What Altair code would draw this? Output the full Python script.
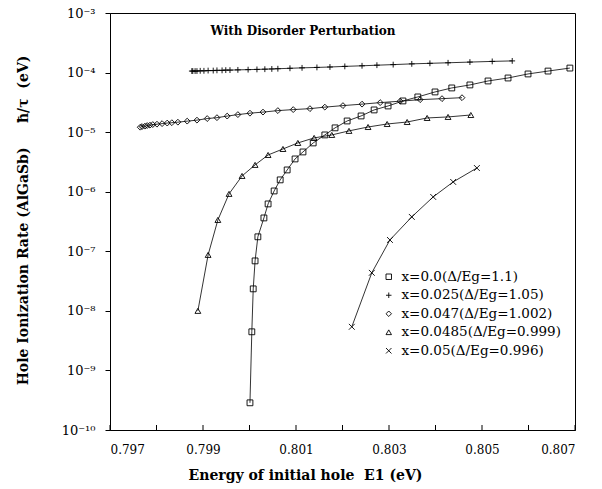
import altair as alt
import pandas as pd

# ---------------- data ----------------
series_names = [
    "x=0.0(Δ/Eg=1.1)",
    "x=0.025(Δ/Eg=1.05)",
    "x=0.047(Δ/Eg=1.002)",
    "x=0.0485(Δ/Eg=0.999)",
    "x=0.05(Δ/Eg=0.996)",
]

sq_E = [0.80001, 0.80005, 0.80008, 0.80012, 0.80018, 0.80031, 0.80040, 0.80053,
        0.80066, 0.80081, 0.80098, 0.80115, 0.80137, 0.80162, 0.80184, 0.80210,
        0.80240, 0.80268, 0.80298, 0.80330, 0.80362, 0.80399, 0.80435, 0.80474,
        0.80513, 0.80556, 0.80599, 0.80642, 0.80689]
sq_R = [2.86e-10, 4.45e-9, 2.34e-8, 6.9e-8, 1.75e-7, 3.63e-7, 6.24e-7, 1.03e-6,
        1.58e-6, 2.32e-6, 3.55e-6, 4.65e-6, 6.59e-6, 8.98e-6, 1.18e-5, 1.54e-5,
        1.87e-5, 2.36e-5, 2.75e-5, 3.34e-5, 3.90e-5, 4.73e-5, 5.52e-5, 6.20e-5,
        7.23e-5, 8.11e-5, 9.48e-5, 1.06e-4, 1.19e-4]

pl_E = [0.79876, 0.79878, 0.79883, 0.79887, 0.79894, 0.79902, 0.79911, 0.79922,
        0.79930, 0.79941, 0.79949, 0.79958, 0.79975, 0.79997, 0.80016, 0.80033,
        0.80048, 0.80061, 0.80087, 0.80113, 0.80145, 0.80173, 0.80205, 0.80242,
        0.80274, 0.80309, 0.80349, 0.80388, 0.80427, 0.80474, 0.80522, 0.80565]
pl_R = [1.06e-4, 1.06e-4, 1.06e-4, 1.06e-4, 1.07e-4, 1.07e-4, 1.08e-4, 1.08e-4,
        1.09e-4, 1.09e-4, 1.10e-4, 1.10e-4, 1.11e-4, 1.12e-4, 1.13e-4, 1.14e-4,
        1.15e-4, 1.16e-4, 1.18e-4, 1.20e-4, 1.22e-4, 1.24e-4, 1.27e-4, 1.30e-4,
        1.33e-4, 1.36e-4, 1.40e-4, 1.43e-4, 1.46e-4, 1.50e-4, 1.54e-4, 1.57e-4]

di_E = [0.79765, 0.79769, 0.79775, 0.79780, 0.79786, 0.79792, 0.79801, 0.79812,
        0.79823, 0.79833, 0.79846, 0.79866, 0.79887, 0.79909, 0.79930, 0.79952,
        0.79975, 0.80001, 0.80029, 0.80061, 0.80094, 0.80130, 0.80162, 0.80201,
        0.80242, 0.80281, 0.80324, 0.80367, 0.80414, 0.80457]
di_R = [1.21e-5, 1.24e-5, 1.26e-5, 1.29e-5, 1.31e-5, 1.34e-5, 1.36e-5, 1.39e-5,
        1.42e-5, 1.44e-5, 1.47e-5, 1.53e-5, 1.59e-5, 1.69e-5, 1.75e-5, 1.86e-5,
        1.97e-5, 2.08e-5, 2.17e-5, 2.30e-5, 2.39e-5, 2.48e-5, 2.63e-5, 2.79e-5,
        2.95e-5, 3.13e-5, 3.31e-5, 3.51e-5, 3.65e-5, 3.79e-5]

tr_E = [0.79889, 0.79911, 0.79932, 0.79956, 0.79984, 0.80012, 0.80040, 0.80072,
        0.80104, 0.80139, 0.80177, 0.80214, 0.80255, 0.80296, 0.80339, 0.80382,
        0.80427, 0.80476]
tr_R = [1.0e-8, 8.7e-8, 3.36e-7, 9.2e-7, 1.84e-6, 2.82e-6, 4.14e-6, 5.22e-6,
        6.59e-6, 8.0e-6, 8.98e-6, 1.05e-5, 1.22e-5, 1.37e-5, 1.48e-5, 1.73e-5,
        1.80e-5, 1.94e-5]

cr_E = [0.80220, 0.80263, 0.80302, 0.80349, 0.80395, 0.80438, 0.80489]
cr_R = [5.4e-9, 4.35e-8, 1.55e-7, 3.78e-7, 8.18e-7, 1.46e-6, 2.5e-6]

x_label_values = [0.797, 0.799, 0.801, 0.803, 0.805, 0.807]
x_tick_values = [0.797, 0.798, 0.799, 0.800, 0.801, 0.802, 0.803, 0.804,
                 0.805, 0.806, 0.807]
y_tick_values = [1e-10, 1e-9, 1e-8, 1e-7, 1e-6, 1e-5, 1e-4, 1e-3]

# ---------------- table ----------------
rows = []
for name, es, rs in zip(series_names,
                        [sq_E, pl_E, di_E, tr_E, cr_E],
                        [sq_R, pl_R, di_R, tr_R, cr_R]):
    for e, r in zip(es, rs):
        rows.append({"series": name, "E": e, "R": r})
df = pd.DataFrame(rows)
ticks_df = pd.DataFrame({"E": x_tick_values})

FONT = "DejaVu Serif"
PLUS = "M-1,0L1,0M0,-1L0,1"
XMARK = "M-1,-1L1,1M-1,1L1,-1"
shapes = ["square", PLUS, "diamond", "triangle-up", XMARK]

xscale = alt.Scale(domain=[0.797, 0.807], nice=False, zero=False)
yscale = alt.Scale(type="log", domain=[1e-10, 1e-3], nice=False)

ylabel = (
    "datum.value > 5e-4 ? '10⁻³' : datum.value > 5e-5 ? '10⁻⁴' : "
    "datum.value > 5e-6 ? '10⁻⁵' : datum.value > 5e-7 ? '10⁻⁶' : "
    "datum.value > 5e-8 ? '10⁻⁷' : datum.value > 5e-9 ? '10⁻⁸' : "
    "datum.value > 5e-10 ? '10⁻⁹' : '10⁻¹⁰'"
)

NB = "\u00a0"
x_axis = alt.Axis(
    values=x_label_values, format=".3f", grid=False, ticks=False,
    labelPadding=14, labelFont=FONT, labelFontSize=12, labelColor="black",
    domainColor="black",
    title="Energy of initial hole" + NB * 2 + "E1 (eV)",
    titleFont=FONT, titleFontSize=14, titleFontWeight="bold",
    titleColor="black", titleX=195, titleY=49, titleAlign="center",
    titleBaseline="alphabetic",
)
y_axis = alt.Axis(
    values=y_tick_values, labelExpr=ylabel, grid=False, tickSize=5,
    tickColor="black", labelPadding=10, labelFont=FONT, labelFontSize=13,
    labelColor="black", domainColor="black",
    title="Hole Ionization Rate (AlGaSb)" + NB * 5 + "ħ/τ" + NB * 2 + "(eV)",
    titleFont=FONT, titleFontSize=14, titleFontWeight="bold",
    titleColor="black", titleAngle=-90, titleX=-87, titleY=207,
    titleAlign="center", titleBaseline="middle",
)

lines = alt.Chart(df).mark_line(color="black", strokeWidth=0.8).encode(
    x=alt.X("E:Q", scale=xscale, axis=x_axis),
    y=alt.Y("R:Q", scale=yscale, axis=y_axis),
    detail="series:N", order="E:Q",
)

points = alt.Chart(df).mark_point(
    filled=False, color="black", size=34, strokeWidth=0.9, opacity=1
).encode(
    x=alt.X("E:Q", scale=xscale, axis=x_axis),
    y=alt.Y("R:Q", scale=yscale, axis=y_axis),
    shape=alt.Shape(
        "series:N",
        scale=alt.Scale(domain=series_names, range=shapes),
        legend=alt.Legend(
            orient="none", legendX=272, legendY=257, title=None,
            labelFont=FONT, labelFontSize=13.5, labelColor="black",
            symbolSize=30, symbolStrokeColor="black", symbolStrokeWidth=0.9,
            rowPadding=3.5, labelOffset=6, padding=0,
        ),
    ),
)

xticks = alt.Chart(ticks_df).mark_rule(color="black", strokeWidth=1).encode(
    x=alt.X("E:Q", scale=xscale, axis=x_axis),
    y=alt.value(417), y2=alt.value(412),
)

label = alt.Chart(pd.DataFrame({"s": ["With Disorder Perturbation"]})).mark_text(
    font=FONT, fontSize=12, fontWeight="bold", color="black",
    align="center", baseline="middle",
).encode(x=alt.value(193), y=alt.value(18), text="s:N")

chart = alt.layer(lines, points, xticks, label).properties(
    width=465, height=417,
    autosize=alt.AutoSizeParams(type="none"),
    padding={"left": 110, "top": 13, "right": 27, "bottom": 59},
    background="white",
).configure_view(stroke="black", strokeWidth=1)

chart.save("out.html", embed_options={"renderer": "svg", "actions": False})
